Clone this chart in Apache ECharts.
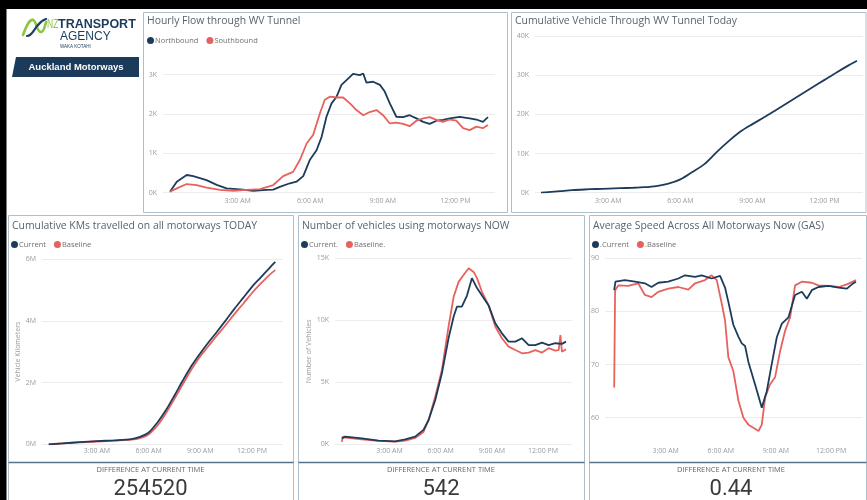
<!DOCTYPE html>
<html>
<head>
<meta charset="utf-8">
<title>Auckland Motorways</title>
<script src="https://cdn.jsdelivr.net/npm/echarts@6/dist/echarts.min.js"></script>
<style>
  html, body { margin: 0; padding: 0; background: #fff; }
  #main { width: 867px; height: 500px; }
</style>
</head>
<body>
<div id="main"></div>
<script>
// time axis (hours after midnight)
const timeTicks = [3, 6, 9, 12];
const timeLabels = ['3:00 AM', '6:00 AM', '9:00 AM', '12:00 PM'];

// Hourly Flow through WV Tunnel (vehicles / hour)
const flowTicks = [0, 1000, 2000, 3000];
const northHours = [0.20, 0.48, 0.89, 1.16, 1.71, 2.13, 2.54, 3.09, 3.64, 4.19, 4.47, 4.74, 5.16, 5.43, 5.71, 5.98, 6.26, 6.47, 6.67, 6.88, 7.09, 7.29, 7.50, 7.77, 8.05, 8.19, 8.32, 8.60, 8.88, 9.08, 9.29, 9.56, 9.84, 10.11, 10.39, 10.67, 10.94, 11.22, 11.49, 11.77, 12.18, 12.59, 12.87, 13.14, 13.35];
const northFlow = [25, 280, 450, 420, 320, 200, 110, 85, 50, 70, 80, 150, 240, 280, 420, 830, 1080, 1420, 1930, 2270, 2440, 2740, 2860, 3020, 2990, 3030, 2800, 2820, 2740, 2570, 2270, 1930, 1920, 1970, 1890, 1800, 1750, 1830, 1850, 1890, 1930, 1890, 1860, 1800, 1920];
const southHours = [0.20, 0.48, 0.89, 1.30, 1.71, 2.27, 2.82, 3.37, 3.92, 4.47, 4.88, 5.29, 5.57, 5.85, 6.12, 6.40, 6.60, 6.81, 7.09, 7.36, 7.64, 7.91, 8.19, 8.46, 8.74, 9.01, 9.29, 9.56, 9.84, 10.11, 10.39, 10.67, 10.94, 11.22, 11.49, 11.77, 12.04, 12.32, 12.59, 12.87, 13.14, 13.35];
const southFlow = [25, 110, 220, 195, 130, 70, 50, 70, 90, 195, 420, 530, 830, 1250, 1470, 2020, 2360, 2440, 2420, 2420, 2270, 2100, 1970, 2050, 2100, 1970, 1760, 1780, 1750, 1690, 1830, 1890, 1920, 1850, 1800, 1860, 1830, 1640, 1590, 1680, 1640, 1720];

// Cumulative Vehicle Through WV Tunnel Today (thousands)
const cumTicks = [0, 10, 20, 30, 40];
const cumHours = [0.2, 0.5, 1, 1.5, 2, 2.5, 3, 3.5, 4, 4.5, 5, 5.5, 6, 6.5, 7, 7.5, 8, 8.5, 9, 9.5, 10, 10.5, 11, 11.5, 12, 12.5, 13, 13.35];
const cumVehicles = [0, 0.15, 0.4, 0.65, 0.82, 0.95, 1.05, 1.15, 1.25, 1.4, 1.7, 2.3, 3.4, 5.3, 7.3, 10.3, 13.1, 15.6, 17.5, 19.3, 21.2, 23.1, 25.0, 26.9, 28.8, 30.7, 32.5, 33.7];

// Cumulative KMs travelled on all motorways (millions)
const kmTicks = [0, 2, 4, 6];
const kmHours = [0.2, 1, 2, 3, 4, 5, 5.5, 6, 6.5, 7, 7.5, 8, 8.5, 9, 9.5, 10, 10.5, 11, 11.5, 12, 12.5, 13, 13.35];
const kmCurrent = [0, 0.03, 0.07, 0.1, 0.13, 0.17, 0.24, 0.38, 0.7, 1.1, 1.58, 2.08, 2.55, 2.95, 3.32, 3.67, 4.03, 4.4, 4.75, 5.1, 5.4, 5.7, 5.91];
const kmBaseline = [0, 0.03, 0.06, 0.09, 0.12, 0.15, 0.2, 0.32, 0.6, 1.0, 1.47, 1.96, 2.44, 2.85, 3.2, 3.55, 3.88, 4.23, 4.56, 4.9, 5.2, 5.48, 5.64];

// Number of vehicles using motorways (thousands)
const vehTicks = [0, 5, 10, 15];
const vehHoursCur = [0.20, 0.40, 1.37, 2.35, 3.33, 3.92, 4.50, 4.99, 5.29, 5.68, 6.07, 6.46, 6.76, 6.95, 7.24, 7.54, 7.83, 8.13, 8.42, 8.81, 9.20, 9.59, 9.98, 10.38, 10.77, 11.16, 11.55, 11.94, 12.33, 12.72, 13.11, 13.35];
const vehCurrent = [0.48, 0.62, 0.48, 0.3, 0.24, 0.4, 0.62, 1.16, 1.96, 3.58, 5.73, 8.55, 10.3, 11.1, 11.1, 12.0, 13.4, 12.6, 12.0, 11.2, 9.76, 8.95, 8.28, 8.28, 8.55, 8.0, 8.0, 8.2, 8.0, 8.15, 8.1, 8.28];
const vehHoursBase = [0.20, 0.26, 0.40, 1.37, 2.35, 3.33, 3.92, 4.50, 4.99, 5.29, 5.68, 6.07, 6.46, 6.76, 7.05, 7.34, 7.64, 7.93, 8.13, 8.42, 8.81, 9.20, 9.59, 9.98, 10.38, 10.77, 11.16, 11.55, 11.94, 12.33, 12.72, 12.92, 13.02, 13.11, 13.35];
const vehBaseline = [0.2, 0.62, 0.54, 0.4, 0.27, 0.22, 0.3, 0.51, 1.0, 1.96, 3.85, 6.0, 9.5, 11.9, 13.1, 13.65, 14.2, 13.9, 13.4, 12.3, 11.2, 9.5, 8.55, 7.88, 7.6, 7.34, 7.4, 7.6, 7.4, 7.75, 7.55, 7.6, 8.8, 7.47, 7.66];

// Average speed across all motorways (km/h)
const spdTicks = [60, 70, 80, 90];
const spdHoursCur = [0.20, 0.27, 0.78, 1.33, 1.87, 2.23, 2.60, 3.14, 3.69, 4.05, 4.60, 4.96, 5.50, 5.96, 6.23, 6.41, 6.68, 6.96, 7.14, 7.32, 7.50, 7.86, 8.23, 8.50, 8.77, 9.05, 9.32, 9.68, 10.04, 10.41, 10.68, 10.95, 11.31, 11.86, 12.41, 12.86, 13.13, 13.35];
const spdCurrent = [84.0, 85.6, 85.9, 85.6, 85.3, 84.6, 85.4, 85.6, 86.2, 86.8, 86.5, 86.8, 86.2, 86.7, 84.5, 81.8, 77.5, 75.2, 74.0, 73.5, 70.5, 66.3, 61.9, 65.0, 70.1, 75.2, 77.7, 78.9, 83.1, 83.7, 82.4, 84.0, 84.6, 84.8, 84.5, 84.3, 85.1, 85.6];
const spdHoursBase = [0.20, 0.25, 0.42, 0.96, 1.51, 1.87, 2.23, 2.60, 3.14, 3.69, 4.23, 4.60, 5.14, 5.50, 5.78, 6.05, 6.23, 6.41, 6.68, 6.96, 7.23, 7.50, 7.77, 8.05, 8.23, 8.41, 8.68, 8.95, 9.23, 9.50, 9.77, 10.04, 10.41, 10.95, 11.31, 11.86, 12.41, 12.86, 13.35];
const spdBaseline = [65.7, 84.0, 84.9, 84.8, 85.3, 83.1, 82.7, 83.7, 84.3, 84.6, 84.1, 85.3, 85.9, 86.8, 85.9, 81.5, 78.3, 71.4, 68.8, 63.2, 60.0, 58.7, 58.1, 57.5, 58.7, 63.8, 66.3, 67.6, 72.6, 76.4, 78.9, 84.9, 85.6, 85.4, 84.9, 84.8, 84.6, 85.1, 85.9];

// difference at current time (one per bottom panel)
const diffValues = ['254520', '542', '0.44'];

const navy = '#1d3c5b';
const coral = '#e8625d';
const font = "'Segoe UI', 'Open Sans', sans-serif";
const axisGrey = '#9b9b9b';

let chart = echarts.init(document.getElementById('main'), null, {renderer: 'canvas'});

function pairs(hours, vals) {
    return hours.map((h, i) => [h, vals[i]]);
}

function makeX(gi, min, max, margin) {
    return {
        type: 'value', gridIndex: gi, min: min, max: max,
        axisLine: {show: false},
        splitLine: {show: false},
        axisTick: {show: false, customValues: timeTicks},
        axisLabel: {
            customValues: timeTicks, margin: margin,
            fontSize: 7, color: axisGrey, fontFamily: font,
            formatter: v => timeLabels[timeTicks.indexOf(v)] || ''
        }
    };
}

function makeY(gi, min, max, ticks, fmt, name, nameGap) {
    return {
        type: 'value', gridIndex: gi, min: min, max: max,
        name: name || '', nameLocation: 'middle', nameGap: nameGap || 0,
        nameTextStyle: {fontSize: 7, color: axisGrey, fontFamily: font},
        axisLine: {show: false},
        axisTick: {show: false, customValues: ticks},
        axisLabel: {customValues: ticks, margin: 6, fontSize: 7, color: axisGrey, fontFamily: font, formatter: fmt},
        splitLine: {lineStyle: {color: '#ececec', width: 1}}
    };
}

function line(name, gi, data, color, smooth) {
    return {
        name: name, type: 'line', xAxisIndex: gi, yAxisIndex: gi,
        data: data, symbol: 'none', showSymbol: false, smooth: smooth || false,
        lineStyle: {color: color, width: 1.8}, itemStyle: {color: color},
        animation: false
    };
}

function txt(x, y, text, size, color, weight, align, family) {
    return {
        type: 'text', x: x, y: y, silent: true,
        style: {
            text: text, fontSize: size, fill: color, fontWeight: weight || 'normal',
            fontFamily: family || font, align: align || 'left', verticalAlign: 'middle'
        }
    };
}

function frame(x, y, w, h, color) {
    return {type: 'rect', silent: true, shape: {x: x, y: y, width: w, height: h},
        style: {fill: null, stroke: color, lineWidth: 1}};
}

function hline(x1, x2, y, color, width) {
    return {type: 'line', silent: true, shape: {x1: x1, y1: y, x2: x2, y2: y},
        style: {stroke: color, lineWidth: width}};
}

function curve(p, color, width) {
    return {type: 'bezierCurve', silent: true,
        shape: {x1: p[0], y1: p[1], cpx1: p[2], cpy1: p[3], cpx2: p[4], cpy2: p[5], x2: p[6], y2: p[7]},
        style: {fill: null, stroke: color, lineWidth: width, lineCap: 'round'}};
}

const border = '#aebfcc';
const diffCentres = [150.5, 441, 731];

let nzText = txt(47, 25, 'NZ', 12.5, '#8dc63f', 'normal', 'left', 'Liberation Sans');
nzText.scaleX = 0.68;

let graphics = [
    // black strips
    {type: 'rect', silent: true, shape: {x: 0, y: 0, width: 867, height: 9}, style: {fill: '#000'}},
    {type: 'rect', silent: true, shape: {x: 0, y: 0, width: 6.5, height: 500}, style: {fill: '#000'}},
    // logo swoosh
    curve([23, 35, 26, 27, 29, 19, 33, 20], '#8dc63f', 2.6),
    curve([33, 20, 37, 21, 36, 32, 41, 32], '#8dc63f', 2.6),
    curve([41, 32, 44, 32, 45, 26, 46, 22], '#8dc63f', 2.6),
    curve([27, 36, 32, 36, 34, 29, 38, 25], '#1e3f60', 2.2),
    curve([38, 25, 41, 21, 43, 20, 46, 19], '#1e3f60', 2.2),
    nzText,
    txt(58, 25, 'TRANSPORT', 12.5, '#1b3a5c', 'bold', 'left', 'Liberation Sans'),
    txt(60, 37, 'AGENCY', 12, '#1b3a5c', 'normal', 'left', 'Liberation Sans'),
    txt(60, 46.5, 'WAKA KOTAHI', 4.5, '#1b3a5c', 'normal', 'left', 'Liberation Sans'),
    {type: 'polygon', silent: true, shape: {points: [[16, 57], [139, 57], [139, 77], [12, 77]]},
        style: {fill: '#1c3a5a'}},
    txt(76, 67, 'Auckland Motorways', 9.5, '#ffffff', 'bold', 'center', 'Liberation Sans'),
    // panel frames
    frame(143.5, 12.5, 364, 200, border),
    frame(511.5, 12.5, 354.5, 200, border),
    frame(8.5, 215.5, 285, 290, border),
    frame(298.5, 215.5, 286, 290, border),
    frame(589.5, 215.5, 277, 290, border),
    hline(8.5, 293.5, 462.5, '#56738a', 1.5),
    hline(298.5, 584.5, 462.5, '#56738a', 1.5),
    hline(589.5, 866.5, 462.5, '#56738a', 1.5)
];
diffValues.forEach((v, i) => {
    graphics.push(txt(diffCentres[i], 469.5, 'DIFFERENCE AT CURRENT TIME', 7.5, '#666666', 'normal', 'center'));
    graphics.push(txt(diffCentres[i], 489, v, 22, '#3a3a3a', 'normal', 'center', 'Roboto'));
});

const titleStyle = {fontSize: 10.4, fontWeight: 'normal', color: '#56646f', fontFamily: font};
const legendBase = {
    icon: 'circle', itemWidth: 7, itemHeight: 7, itemGap: 8, padding: 0,
    textStyle: {fontSize: 7.5, color: '#6f6f6f', fontFamily: font, padding: [0, 0, 0, -4]}
};

let option = {
    backgroundColor: '#ffffff',
    animation: false,
    title: [
        {text: 'Hourly Flow through WV Tunnel', left: 147, top: 16.5},
        {text: 'Cumulative Vehicle Through WV Tunnel Today', left: 515, top: 16.5},
        {text: 'Cumulative KMs travelled on all motorways TODAY', left: 12, top: 221},
        {text: 'Number of vehicles using motorways NOW', left: 302, top: 221},
        {text: 'Average Speed Across All Motorways Now (GAS)', left: 593, top: 221}
    ].map(t => Object.assign({padding: 0, textStyle: titleStyle}, t)),
    legend: [
        {left: 147, top: 36.5, data: ['Northbound', 'Southbound']},
        {left: 11, top: 240.5, data: ['Current', 'Baseline']},
        {left: 301, top: 240.5, data: ['Current.', 'Baseline.']},
        {left: 592, top: 240.5, data: ['.Current', '.Baseline']}
    ].map(l => Object.assign({}, legendBase, l)),
    grid: [
        {left: 163, top: 55, width: 332, height: 137.7},
        {left: 535, top: 36, width: 328, height: 156.7},
        {left: 42, top: 259, width: 241, height: 185.3},
        {left: 335, top: 258.3, width: 237, height: 186},
        {left: 605, top: 258.3, width: 257, height: 186}
    ].map(g => Object.assign({outerBoundsMode: 'none', containLabel: false}, g)),
    xAxis: [
        makeX(0, -0.09, 13.64, 5),
        makeX(1, -0.05, 13.6, 5),
        makeX(2, -0.19, 13.8, 3),
        makeX(3, -0.2, 13.7, 3),
        makeX(4, -0.3, 13.68, 3)
    ],
    yAxis: [
        makeY(0, 0, 3500, flowTicks, v => (v / 1000) + 'K'),
        makeY(1, 0, 40, cumTicks, v => v + 'K'),
        makeY(2, 0, 6, kmTicks, v => v + 'M', 'Vehicle Kilometers', 17),
        makeY(3, 0, 15, vehTicks, v => v + 'K', 'Number of Vehicles', 21),
        makeY(4, 55, 90, spdTicks, v => v + '')
    ],
    series: [
        line('Northbound', 0, pairs(northHours, northFlow), navy),
        line('Southbound', 0, pairs(southHours, southFlow), coral),
        line('Cumulative', 1, pairs(cumHours, cumVehicles), navy, 0.3),
        line('Baseline', 2, pairs(kmHours, kmBaseline), coral, 0.3),
        line('Current', 2, pairs(kmHours, kmCurrent), navy, 0.3),
        line('Baseline.', 3, pairs(vehHoursBase, vehBaseline), coral),
        line('Current.', 3, pairs(vehHoursCur, vehCurrent), navy),
        line('.Baseline', 4, pairs(spdHoursBase, spdBaseline), coral),
        line('.Current', 4, pairs(spdHoursCur, spdCurrent), navy)
    ],
    graphic: {elements: graphics}
};

chart.setOption(option);
</script>
</body>
</html>
